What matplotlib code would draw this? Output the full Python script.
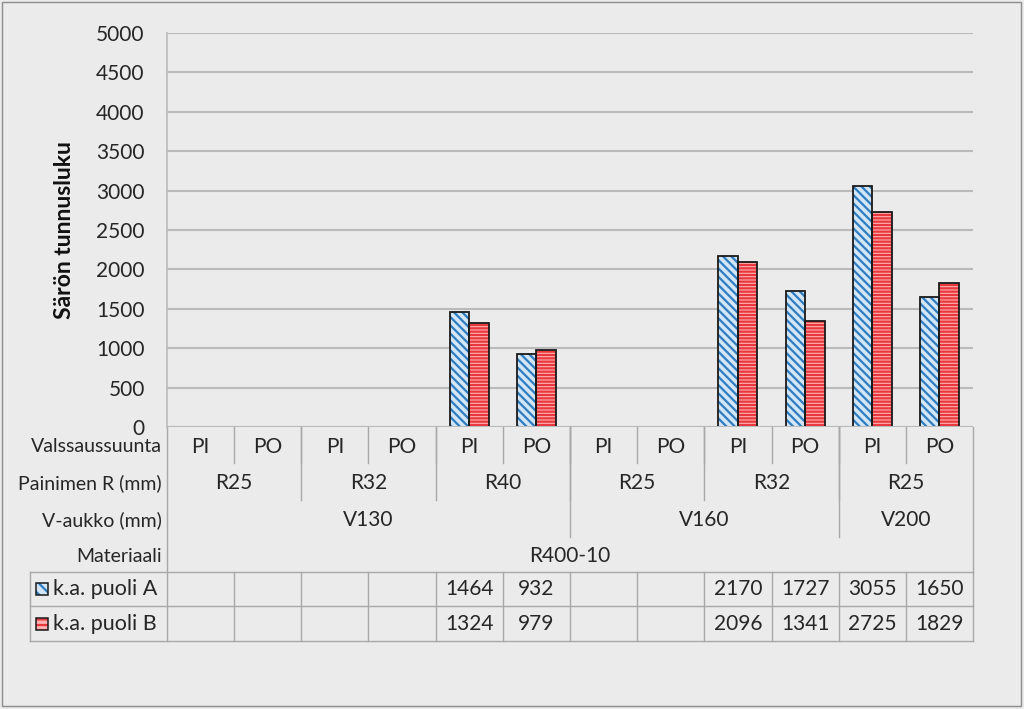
import matplotlib
matplotlib.use('Agg')
import matplotlib.pyplot as plt
import matplotlib.transforms as mtransforms
from matplotlib.patches import Rectangle
from matplotlib.lines import Line2D

plt.rcParams['font.family'] = ['Lato', 'DejaVu Sans']
plt.rcParams['hatch.linewidth'] = 1.6

# data
suunta = ['PI', 'PO', 'PI', 'PO', 'PI', 'PO', 'PI', 'PO', 'PI', 'PO', 'PI', 'PO']
painin_r = [('R25', 0, 1), ('R32', 2, 3), ('R40', 4, 5), ('R25', 6, 7), ('R32', 8, 9), ('R25', 10, 11)]
v_aukko = [('V130', 0, 5), ('V160', 6, 9), ('V200', 10, 11)]
materiaali = [('R400-10', 0, 11)]
puoli_a = [None, None, None, None, 1464, 932, None, None, 2170, 1727, 3055, 1650]
puoli_b = [None, None, None, None, 1324, 979, None, None, 2096, 1341, 2725, 1829]
row_names = ['Valssaussuunta', 'Painimen R (mm)', 'V-aukko (mm)', 'Materiaali']
series_names = ['k.a. puoli A', 'k.a. puoli B']

W, H = 1024, 709
bg = '#EBEBEB'
grid_c = '#BABABA'
line_c = '#A8A8A8'
txt_c = '#262626'
fs_num = 15
fs_cat = 15
fs_row = 14

fig = plt.figure(figsize=(W / 100, H / 100), dpi=100, facecolor=bg)

def fy(y):
    return 1 - y / H

def fx(x):
    return x / W

x0, x1, ytop, ybot = 167, 973, 33, 427
ax = fig.add_axes([fx(x0), fy(ybot), fx(x1 - x0), (ybot - ytop) / H])
ax.set_facecolor(bg)
n = len(suunta)
ax.set_xlim(-0.5, n - 0.5)
ax.set_ylim(0, 5000)
ax.set_yticks(range(0, 5001, 500))
ax.tick_params(axis='y', length=0, pad=16, labelsize=fs_num, colors=txt_c)
ax.set_xticks([])
ax.grid(axis='y', color=grid_c, linewidth=1.5)
ax.set_axisbelow(True)
for s in ['top', 'right', 'bottom']:
    ax.spines[s].set_visible(False)
ax.spines['left'].set_color(grid_c)
ax.spines['left'].set_linewidth(1.2)
ax.axhline(0, color=grid_c, linewidth=1.5)
ax.set_ylabel('Särön tunnusluku', fontsize=16.5, fontweight='bold', color='#111111')
ax.yaxis.set_label_coords((75 - x0) / (x1 - x0), 0.5)

bw = 0.29
xs = list(range(n))
va = [v if v is not None else 0 for v in puoli_a]
vb = [v if v is not None else 0 for v in puoli_b]
# hatch layers
ax.bar([x - bw / 2 for x in xs], va, bw, color='#D2E6F7', edgecolor='#2F7CC0', hatch='\\\\\\\\', linewidth=0)
ax.bar([x + bw / 2 for x in xs], vb, bw, color='#FFB0B0', edgecolor='#E8383D', hatch='-----', linewidth=0)
# outlines
ax.bar([x - bw / 2 for x in xs], va, bw, fill=False, edgecolor='#1A1A1A', linewidth=1.3)
ax.bar([x + bw / 2 for x in xs], vb, bw, fill=False, edgecolor='#1A1A1A', linewidth=1.3)

tr = mtransforms.blended_transform_factory(ax.transData, fig.transFigure)

def vline(xd, ya, yb):
    ax.add_line(Line2D([xd, xd], [fy(ya), fy(yb)], transform=tr, color=line_c, linewidth=1, clip_on=False))

# category labels
row_y = [447, 483, 520, 556]
for i, s in enumerate(suunta):
    fig.text(i, fy(row_y[0]), s, transform=tr, fontsize=fs_cat, ha='center', va='center', color=txt_c)
for lev, groups in [(1, painin_r), (2, v_aukko), (3, materiaali)]:
    for name, a, b in groups:
        fig.text((a + b) / 2, fy(row_y[lev]), name, transform=tr, fontsize=fs_cat, ha='center', va='center', color=txt_c)
for i, name in enumerate(row_names):
    fig.text(fx(162), fy(row_y[i]), name, fontsize=fs_row, ha='right', va='center', color=txt_c)

# separators
for i in range(n - 1):
    vline(i + 0.5, ybot, 463)
for name, a, b in painin_r[:-1]:
    vline(b + 0.5, ybot, 500)
for name, a, b in v_aukko[:-1]:
    vline(b + 0.5, ybot, 537)
vline(-0.5, ybot, 641)
vline(n - 0.5, ybot, 641)

# data table
t_top, t_mid, t_bot = 572, 606, 641
for yy in (t_top, t_mid, t_bot):
    fig.add_artist(Line2D([fx(30), fx(x1)], [fy(yy), fy(yy)], color=line_c, linewidth=1))
fig.add_artist(Line2D([fx(30), fx(30)], [fy(t_top), fy(t_bot)], color=line_c, linewidth=1))
for i in range(n - 1):
    vline(i + 0.5, t_top, t_bot)
for r, (vals, yc) in enumerate([(puoli_a, 589), (puoli_b, 624)]):
    for i, v in enumerate(vals):
        if v is not None:
            fig.text(i, fy(yc), str(v), transform=tr, fontsize=fs_num, ha='center', va='center', color=txt_c)
# legend keys
for r, (yc, fc, hc, ht) in enumerate([(589, '#D2E6F7', '#2F7CC0', '\\\\\\'), (624, '#FFB0B0', '#E8383D', '---')]):
    fig.add_artist(Rectangle((fx(36), fy(yc + 6)), fx(12), 12 / H, facecolor=fc, edgecolor=hc, hatch=ht, linewidth=0))
    fig.add_artist(Rectangle((fx(36), fy(yc + 6)), fx(12), 12 / H, fill=False, edgecolor='#1A1A1A', linewidth=1.1))
    fig.text(fx(53), fy(yc), series_names[r], fontsize=15.5, ha='left', va='center', color=txt_c)

# outer frame
fig.add_artist(Rectangle((fx(2), fy(706)), fx(1019), 704 / H, fill=False, edgecolor='#8C8C8C', linewidth=1))

fig.savefig('out.png', dpi=100, facecolor=bg)
